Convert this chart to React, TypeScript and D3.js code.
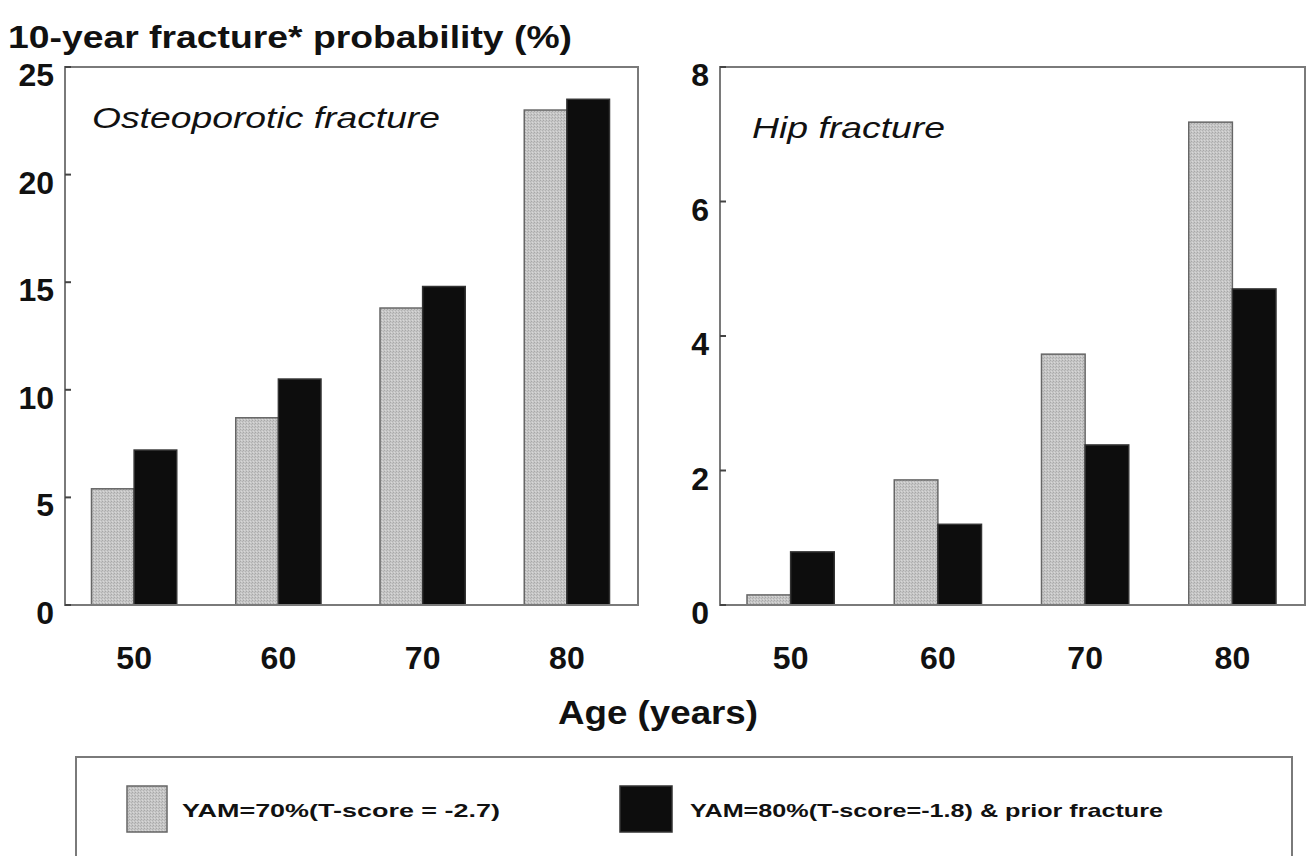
import React from "react";
import * as d3 from "d3";

const ages = ["50", "60", "70", "80"];
const seriesKeys = ["yam70", "yam80"];
const seriesLabels = ["YAM=70%(T-score = -2.7)", "YAM=80%(T-score=-1.8) & prior fracture"];
const osteoYam70 = [5.4, 8.7, 13.8, 23.0];
const osteoYam80 = [7.2, 10.5, 14.8, 23.5];
const hipYam70 = [0.15, 1.86, 3.73, 7.18];
const hipYam80 = [0.79, 1.2, 2.38, 4.7];
const osteoTicks = [0, 5, 10, 15, 20, 25];
const hipTicks = [0, 2, 4, 6, 8];

const FONT = "'Liberation Sans', Arial, sans-serif";
const FRAME = "#7a7a7a";

type PanelProps = {
  x0: number;
  x1: number;
  yMax: number;
  ticks: number[];
  a: number[];
  b: number[];
  title: string;
  titleX: number;
  titleY: number;
  titleLen: number;
  groupInset: number;
};

function Panel(p: PanelProps) {
  const top = 67;
  const bottom = 605;
  const y = d3.scaleLinear().domain([0, p.yMax]).range([bottom, top]);
  const x = d3.scaleBand<string>().domain(ages).range([p.x0 - 3, p.x1 + 1]);
  const bw = x.bandwidth();
  const inner = d3
    .scaleBand<string>()
    .domain(seriesKeys)
    .range([p.groupInset, bw - p.groupInset]);
  const vals = [p.a, p.b];
  return (
    <g>
      {ages.map((age, i) =>
        seriesKeys.map((k, j) => {
          const v = vals[j][i];
          const bx = (x(age) as number) + (inner(k) as number);
          return (
            <rect
              key={age + k}
              x={bx}
              y={y(v)}
              width={inner.bandwidth()}
              height={bottom - y(v)}
              fill={j === 0 ? "url(#dither)" : "#0d0d0d"}
              stroke={j === 0 ? "#666" : "#333"}
              strokeWidth={1.5}
            />
          );
        })
      )}
      <rect
        x={p.x0}
        y={top}
        width={p.x1 - p.x0}
        height={bottom - top}
        fill="none"
        stroke={FRAME}
        strokeWidth={2}
      />
      {p.ticks.map((t) => (
        <g key={t}>
          <line x1={p.x0} x2={p.x0 + 6} y1={y(t)} y2={y(t)} stroke="#444" strokeWidth={2} />
          <text
            x={p.x0 - 11}
            y={y(t) + 19}
            textAnchor="end"
            fontFamily={FONT}
            fontWeight="bold"
            fontSize={32}
            fill="#111"
          >
            {t}
          </text>
        </g>
      ))}
      {ages.map((age) => (
        <text
          key={age}
          x={(x(age) as number) + bw / 2}
          y={669}
          textAnchor="middle"
          fontFamily={FONT}
          fontWeight="bold"
          fontSize={32}
          fill="#111"
        >
          {age}
        </text>
      ))}
      <text
        x={p.titleX}
        y={p.titleY}
        fontFamily={FONT}
        fontStyle="italic"
        fontSize={30}
        textLength={p.titleLen}
        lengthAdjust="spacingAndGlyphs"
        fill="#111"
      >
        {p.title}
      </text>
    </g>
  );
}

export default function App() {
  return (
    <svg width={1311} height={856} style={{ display: "block", position: "absolute", left: 0, top: 0 }}>
      <defs>
        <pattern id="dither" width={3} height={3} patternUnits="userSpaceOnUse">
          <rect width={3} height={3} fill="#c6c6c6" />
          <rect x={0} y={0} width={1} height={1} fill="#a8a8a8" />
          <rect x={2} y={1} width={1} height={1} fill="#b2b2b2" />
          <rect x={1} y={2} width={1} height={1} fill="#d8d8d8" />
        </pattern>
      </defs>
      <rect width={1311} height={856} fill="#fff" />
      <text
        x={8}
        y={48}
        fontFamily={FONT}
        fontWeight="bold"
        fontSize={31}
        textLength={564}
        lengthAdjust="spacingAndGlyphs"
        fill="#111"
      >
        10-year fracture* probability (%)
      </text>
      <Panel
        x0={65}
        x1={638}
        yMax={25}
        ticks={osteoTicks}
        a={osteoYam70}
        b={osteoYam80}
        title="Osteoporotic fracture"
        titleX={92}
        titleY={128}
        titleLen={348}
        groupInset={29.5}
      />
      <Panel
        x0={720}
        x1={1305}
        yMax={8}
        ticks={hipTicks}
        a={hipYam70}
        b={hipYam80}
        title="Hip fracture"
        titleX={752}
        titleY={138}
        titleLen={193}
        groupInset={30}
      />
      <text
        x={658}
        y={724}
        textAnchor="middle"
        fontFamily={FONT}
        fontWeight="bold"
        fontSize={33}
        textLength={200}
        lengthAdjust="spacingAndGlyphs"
        fill="#111"
      >
        Age (years)
      </text>
      <rect x={76} y={757} width={1216} height={120} fill="none" stroke={FRAME} strokeWidth={2} />
      <rect x={127} y={786} width={40} height={46} fill="url(#dither)" stroke="#666" strokeWidth={1.5} />
      <rect x={620} y={786} width={52} height={46} fill="#0d0d0d" stroke="#333" strokeWidth={1.5} />
      <text
        x={182}
        y={817}
        fontFamily={FONT}
        fontWeight="bold"
        fontSize={19}
        textLength={318}
        lengthAdjust="spacingAndGlyphs"
        fill="#111"
      >
        {seriesLabels[0]}
      </text>
      <text
        x={690}
        y={817}
        fontFamily={FONT}
        fontWeight="bold"
        fontSize={19}
        textLength={473}
        lengthAdjust="spacingAndGlyphs"
        fill="#111"
      >
        {seriesLabels[1]}
      </text>
    </svg>
  );
}
